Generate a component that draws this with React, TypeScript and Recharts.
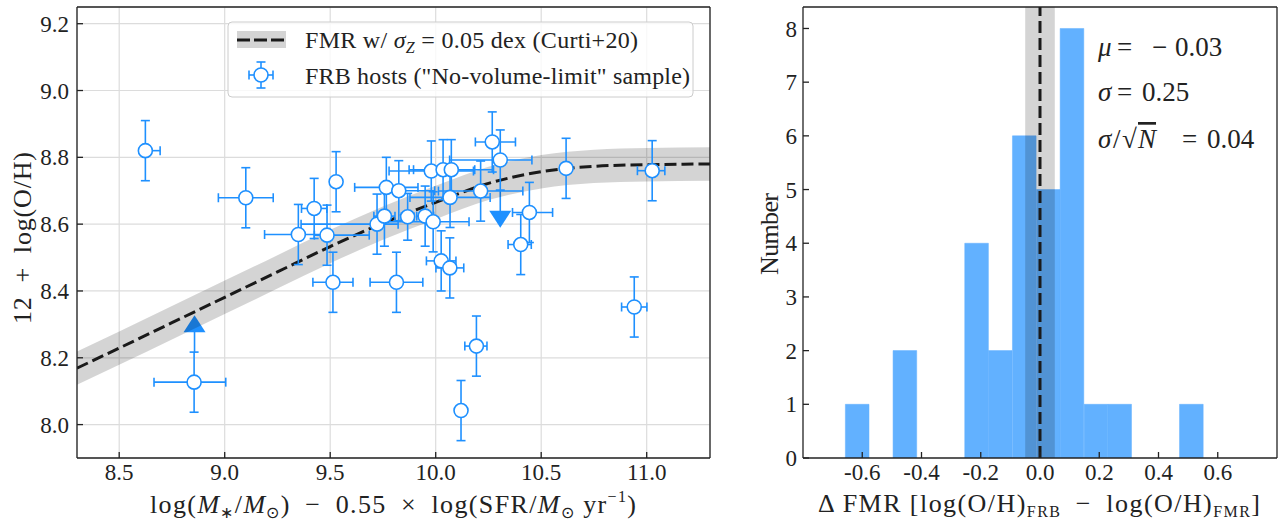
import React from 'react';
import {
  ComposedChart,
  Scatter,
  Line,
  Area,
  Bar,
  XAxis,
  YAxis,
  CartesianGrid,
  ErrorBar,
  ReferenceArea,
  ReferenceLine,
} from 'recharts';

// ---------------- data: left panel ----------------
const hostX = [8.624, 9.1, 8.855, 9.528, 9.424, 9.349, 9.485, 9.513, 9.814, 9.722, 9.757, 9.766, 9.825, 9.867, 9.95, 9.988, 9.979, 10.035, 10.074, 10.068, 10.213, 10.268, 10.306, 10.444, 10.403, 10.026, 10.067, 10.618, 11.026, 10.941, 10.193, 10.12];
const hostY = [8.82, 8.679, 8.127, 8.727, 8.647, 8.569, 8.567, 8.426, 8.426, 8.6, 8.624, 8.71, 8.7, 8.622, 8.624, 8.607, 8.759, 8.763, 8.763, 8.68, 8.699, 8.846, 8.792, 8.635, 8.539, 8.49, 8.469, 8.767, 8.76, 8.352, 8.235, 8.042];
const hostXErrLo = [0.02, 0.13, 0.19, 0.02, 0.06, 0.16, 0.06, 0.095, 0.125, 0.36, 0.05, 0.15, 0.07, 0.03, 0.04, 0.25, 0.2, 0.14, 0.2, 0.19, 0.2, 0.08, 0.24, 0.08, 0.06, 0.07, 0.066, 0.02, 0.07, 0.06, 0.055, 0.02];
const hostXErrHi = [0.07, 0.13, 0.15, 0.02, 0.06, 0.16, 0.2, 0.095, 0.125, 0.1, 0.05, 0.15, 0.17, 0.03, 0.04, 0.17, 0.2, 0.15, 0.2, 0.19, 0.2, 0.11, 0.15, 0.11, 0.05, 0.07, 0.066, 0.02, 0.06, 0.06, 0.05, 0.02];
const hostYErr = [0.09, 0.09, 0.09, 0.09, 0.09, 0.09, 0.09, 0.09, 0.09, 0.09, 0.09, 0.09, 0.09, 0.07, 0.09, 0.09, 0.09, 0.09, 0.09, 0.09, 0.09, 0.09, 0.09, 0.09, 0.09, 0.09, 0.09, 0.09, 0.09, 0.09, 0.09, 0.09];

// limits (triangles): lower limit (up arrow) and upper limit (down arrow)
const lowerLimX = [8.857];
const lowerLimY = [8.3];
const lowerLimStem = [0.085];
const upperLimX = [10.306];
const upperLimY = [8.616];
const upperLimStem = [0.085];

// FMR curve
const fmrX = [8.3, 8.5, 8.75, 9.0, 9.25, 9.5, 9.75, 10.0, 10.25, 10.5, 10.75, 11.0, 11.3];
const fmrY = [8.169, 8.229, 8.305, 8.381, 8.457, 8.533, 8.603, 8.665, 8.722, 8.757, 8.773, 8.778, 8.78];
const fmrSigma = 0.05;

const leftXTicks = [8.5, 9.0, 9.5, 10.0, 10.5, 11.0];
const leftYTicks = [8.0, 8.2, 8.4, 8.6, 8.8, 9.0, 9.2];
const leftXDomain = [8.3, 11.3];
const leftYDomain = [7.9, 9.25];

// ---------------- data: right panel ----------------
const binCenters = [-0.617, -0.536, -0.456, -0.375, -0.295, -0.214, -0.134, -0.053, 0.028, 0.108, 0.189, 0.269, 0.35, 0.43, 0.511];
const binCounts = [1, 0, 2, 0, 0, 4, 2, 6, 5, 8, 1, 1, 0, 0, 1];
const binWidth = 0.0805;
const rightXTicks = [-0.6, -0.4, -0.2, 0.0, 0.2, 0.4, 0.6];
const rightYTicks = [0, 1, 2, 3, 4, 5, 6, 7, 8];
const rightXDomain = [-0.8, 0.8];
const rightYDomain = [0, 8.4];
const fmrBandHalf = 0.05;

// ---------------- built tables ----------------
const hostPts = hostX.map((x, i) => ({
  x,
  y: hostY[i],
  ex: [hostXErrLo[i], hostXErrHi[i]],
  ey: hostYErr[i],
}));
const lowerPts = lowerLimX.map((x, i) => ({ x, y: lowerLimY[i], stem: [lowerLimStem[i], 0] }));
const upperPts = upperLimX.map((x, i) => ({ x, y: upperLimY[i], stem: [0, upperLimStem[i]] }));
const fmrPts = fmrX.map((x, i) => ({ x, y: fmrY[i], band: [fmrY[i] - fmrSigma, fmrY[i] + fmrSigma] }));
const histData = binCenters.map((c, i) => ({ center: c, count: binCounts[i] }));

// ---------------- styles ----------------
const FONT = "'Liberation Serif', 'Times New Roman', serif";
const BLUE = '#1E90FF';
const HIST = '#62B1FF';
const AX = '#222222';
const TICK_FS = 23;
const tickStyle = { fontSize: TICK_FS, fontFamily: FONT, fill: AX };

// layout
const L_W = 720;
const L_H = 520;
const L_MARGIN = { top: 6, right: 9, bottom: 7, left: 17 };
const R_LEFT = 730;
const R_W = 553;
const R_MARGIN = { top: 6, right: 5, bottom: 7, left: 13 };
const R_PLOT_W = R_W - R_MARGIN.left - 60 - R_MARGIN.right - 1;
const BAR_PX = (binWidth * R_PLOT_W) / (rightXDomain[1] - rightXDomain[0]) - 0.2;

const circleShape = (p: any) => (
  <circle cx={p.cx} cy={p.cy} r={7} fill="#ffffff" stroke={BLUE} strokeWidth={1.6} />
);
const emptyShape = () => <g />;
const upTri = (p: any) => (
  <polygon
    points={`${p.cx},${p.cy - 9} ${p.cx - 11},${p.cy + 8} ${p.cx + 11},${p.cy + 8}`}
    fill={BLUE}
  />
);
const downTri = (p: any) => (
  <polygon
    points={`${p.cx - 11},${p.cy - 8} ${p.cx + 11},${p.cy - 8} ${p.cx},${p.cy + 9}`}
    fill={BLUE}
  />
);

const fmt1 = (v: number) => v.toFixed(1);
const fmt0 = (v: number) => String(v);

function LeftChart() {
  return (
    <ComposedChart width={L_W} height={L_H} margin={L_MARGIN}>
      <CartesianGrid stroke="#dcdcdc" strokeWidth={1.2} />
      <XAxis
        type="number"
        dataKey="x"
        domain={leftXDomain}
        ticks={leftXTicks}
        allowDataOverflow
        tickFormatter={fmt1}
        height={55}
        tickSize={-6}
        tickMargin={12}
        stroke={AX}
        strokeWidth={1.3}
        tick={tickStyle}
      />
      <XAxis
        xAxisId="top"
        orientation="top"
        type="number"
        domain={leftXDomain}
        ticks={leftXTicks}
        allowDataOverflow
        height={1}
        tickSize={-6}
        tick={false}
        stroke={AX}
        strokeWidth={1.3}
      />
      <YAxis
        type="number"
        dataKey="y"
        domain={leftYDomain}
        ticks={leftYTicks}
        allowDataOverflow
        tickFormatter={fmt1}
        width={60}
        tickSize={-6}
        tickMargin={14}
        stroke={AX}
        strokeWidth={1.3}
        tick={tickStyle}
      />
      <YAxis
        yAxisId="right"
        orientation="right"
        type="number"
        domain={leftYDomain}
        ticks={leftYTicks}
        allowDataOverflow
        width={1}
        tickSize={-6}
        tick={false}
        stroke={AX}
        strokeWidth={1.3}
      />
      <Scatter data={lowerPts} dataKey="y" shape={upTri} isAnimationActive={false} zIndex={50}>
        <ErrorBar dataKey="stem" direction="y" width={0} stroke={BLUE} strokeWidth={1.6} zIndex={50} />
      </Scatter>
      <Scatter data={upperPts} dataKey="y" shape={downTri} isAnimationActive={false} zIndex={50}>
        <ErrorBar dataKey="stem" direction="y" width={0} stroke={BLUE} strokeWidth={1.6} zIndex={50} />
      </Scatter>
      <Area
        data={fmrPts}
        dataKey="band"
        type="monotone"
        stroke="none"
        fill="#000000"
        fillOpacity={0.17}
        dot={false}
        activeDot={false}
        isAnimationActive={false}
      />
      <Line
        data={fmrPts}
        dataKey="y"
        type="monotone"
        stroke="#1a1a1a"
        strokeWidth={3}
        strokeDasharray="12 5"
        dot={false}
        activeDot={false}
        isAnimationActive={false}
      />
      <Scatter data={hostPts} dataKey="y" shape={emptyShape} isAnimationActive={false}>
        <ErrorBar dataKey="ex" direction="x" width={4.5} stroke={BLUE} strokeWidth={1.6} />
        <ErrorBar dataKey="ey" direction="y" width={4.5} stroke={BLUE} strokeWidth={1.6} />
      </Scatter>
      <Scatter data={hostPts} dataKey="y" shape={circleShape} isAnimationActive={false} zIndex={700} />
    </ComposedChart>
  );
}

function RightChart() {
  return (
    <ComposedChart
      width={R_W}
      height={L_H}
      data={histData}
      margin={R_MARGIN}
      barCategoryGap={0}
      barGap={0}
    >
      <XAxis
        type="number"
        dataKey="center"
        domain={rightXDomain}
        ticks={rightXTicks}
        allowDataOverflow
        tickFormatter={fmt1}
        height={55}
        tickSize={-6}
        tickMargin={12}
        stroke={AX}
        strokeWidth={1.3}
        tick={tickStyle}
      />
      <XAxis
        xAxisId="top"
        orientation="top"
        type="number"
        domain={rightXDomain}
        ticks={rightXTicks}
        allowDataOverflow
        height={1}
        tickSize={-6}
        tick={false}
        stroke={AX}
        strokeWidth={1.3}
      />
      <YAxis
        type="number"
        domain={rightYDomain}
        ticks={rightYTicks}
        allowDataOverflow
        tickFormatter={fmt0}
        width={60}
        tickSize={-6}
        tickMargin={12}
        stroke={AX}
        strokeWidth={1.3}
        tick={tickStyle}
      />
      <YAxis
        yAxisId="right"
        orientation="right"
        type="number"
        domain={rightYDomain}
        ticks={rightYTicks}
        allowDataOverflow
        width={1}
        tickSize={-6}
        tick={false}
        stroke={AX}
        strokeWidth={1.3}
      />
      <Bar
        dataKey="count"
        fill={HIST}
        stroke={HIST}
        strokeWidth={0.5}
        barSize={BAR_PX}
        isAnimationActive={false}
      />
      <ReferenceArea
        x1={-fmrBandHalf}
        x2={fmrBandHalf}
        y1={rightYDomain[0]}
        y2={rightYDomain[1]}
        fill="#000000"
        fillOpacity={0.17}
        stroke="none"
        zIndex={350}
      />
      <ReferenceLine x={0} stroke="#1a1a1a" strokeWidth={3} strokeDasharray="12 5" zIndex={450} />
    </ComposedChart>
  );
}

const SUB = 16;
const SP = '\u2002';

function Overlay() {
  const t = { fontFamily: FONT, fill: AX } as const;
  return (
    <svg
      width={1283}
      height={520}
      style={{ position: 'absolute', left: 0, top: 0, pointerEvents: 'none' }}
    >
      {/* left y label */}
      <text {...t} fontSize={26} textAnchor="middle" transform="translate(31,238) rotate(-90)" textLength={172} lengthAdjust="spacing">
        {`12${SP}+${SP}log(O/H)`}
      </text>
      {/* left x label */}
      <text {...t} fontSize={26} x={393} y={513} textAnchor="middle" textLength={486} lengthAdjust="spacing">
        <tspan>log(</tspan>
        <tspan fontStyle="italic">M</tspan>
        <tspan fontSize={SUB} dy={5}>∗</tspan>
        <tspan dy={-5}>/</tspan>
        <tspan fontStyle="italic">M</tspan>
        <tspan fontSize={SUB} dy={5}>⊙</tspan>
        <tspan dy={-5}>{`)${SP}−${SP}0.55${SP}×${SP}log(SFR/`}</tspan>
        <tspan fontStyle="italic">M</tspan>
        <tspan fontSize={SUB} dy={5}>⊙</tspan>
        <tspan dy={-5}> yr</tspan>
        <tspan fontSize={SUB} dy={-11}>−1</tspan>
        <tspan dy={11}>)</tspan>
      </text>

      {/* legend */}
      <rect x={228} y={22} width={465} height={75} rx={4} fill="#ffffff" fillOpacity={0.8} stroke="#cccccc" strokeWidth={1} />
      <rect x={237} y={31} width={49} height={17} fill="#000000" fillOpacity={0.17} />
      <line x1={237} y1={40} x2={286} y2={40} stroke="#1a1a1a" strokeWidth={3} strokeDasharray="13 4" />
      <text {...t} fontSize={24} x={305} y={48} textLength={333} lengthAdjust="spacing">
        <tspan>FMR w/ </tspan>
        <tspan fontStyle="italic">σ</tspan>
        <tspan fontStyle="italic" fontSize={SUB} dy={5}>Z</tspan>
        <tspan dy={-5}> = 0.05 dex (Curti+20)</tspan>
      </text>
      <g stroke={BLUE} strokeWidth={1.6}>
        <line x1={261} y1={62} x2={261} y2={88} />
        <line x1={256.5} y1={62} x2={265.5} y2={62} />
        <line x1={256.5} y1={88} x2={265.5} y2={88} />
        <line x1={249} y1={75} x2={273} y2={75} />
        <line x1={249} y1={70.5} x2={249} y2={79.5} />
        <line x1={273} y1={70.5} x2={273} y2={79.5} />
      </g>
      <circle cx={261} cy={75} r={7} fill="#ffffff" stroke={BLUE} strokeWidth={1.6} />
      <text {...t} fontSize={24} x={305} y={84} textLength={385} lengthAdjust="spacing">
        FRB hosts ("No-volume-limit" sample)
      </text>

      {/* right y label */}
      <text {...t} fontSize={26} textAnchor="middle" transform={`translate(${R_LEFT + 48},234) rotate(-90)`} textLength={82} lengthAdjust="spacing">
        Number
      </text>
      {/* right x label */}
      <text {...t} fontSize={26} x={1039} y={512} textAnchor="middle" textLength={442} lengthAdjust="spacing">
        <tspan>Δ FMR [log(O/H)</tspan>
        <tspan fontSize={SUB} dy={5}>FRB</tspan>
        <tspan dy={-5}>{`${SP}−${SP}log(O/H)`}</tspan>
        <tspan fontSize={SUB} dy={5}>FMR</tspan>
        <tspan dy={-5}>]</tspan>
      </text>

      {/* stats */}
      <text {...t} fontSize={27} y={56}>
        <tspan x={1098} fontStyle="italic">μ</tspan>
        <tspan x={1117}>=</tspan>
        <tspan x={1152}>−</tspan>
        <tspan x={1175}>0.03</tspan>
      </text>
      <text {...t} fontSize={27} y={101}>
        <tspan x={1098} fontStyle="italic">σ</tspan>
        <tspan x={1117}>=</tspan>
        <tspan x={1142}>0.25</tspan>
      </text>
      <text {...t} fontSize={27} y={148}>
        <tspan x={1098} fontStyle="italic">σ</tspan>
        <tspan x={1113}>/</tspan>
        <tspan x={1122}>√</tspan>
        <tspan x={1138} fontStyle="italic" textDecoration="overline">N</tspan>
        <tspan x={1182}>=</tspan>
        <tspan x={1207}>0.04</tspan>
      </text>
    </svg>
  );
}

export default function App() {
  return (
    <div
      style={{
        position: 'absolute',
        left: 0,
        top: 0,
        width: 1283,
        height: 520,
        background: '#ffffff',
        fontFamily: FONT,
      }}
    >
      <div style={{ position: 'absolute', left: 0, top: 0 }}>
        <LeftChart />
      </div>
      <div style={{ position: 'absolute', left: R_LEFT, top: 0 }}>
        <RightChart />
      </div>
      <Overlay />
    </div>
  );
}
